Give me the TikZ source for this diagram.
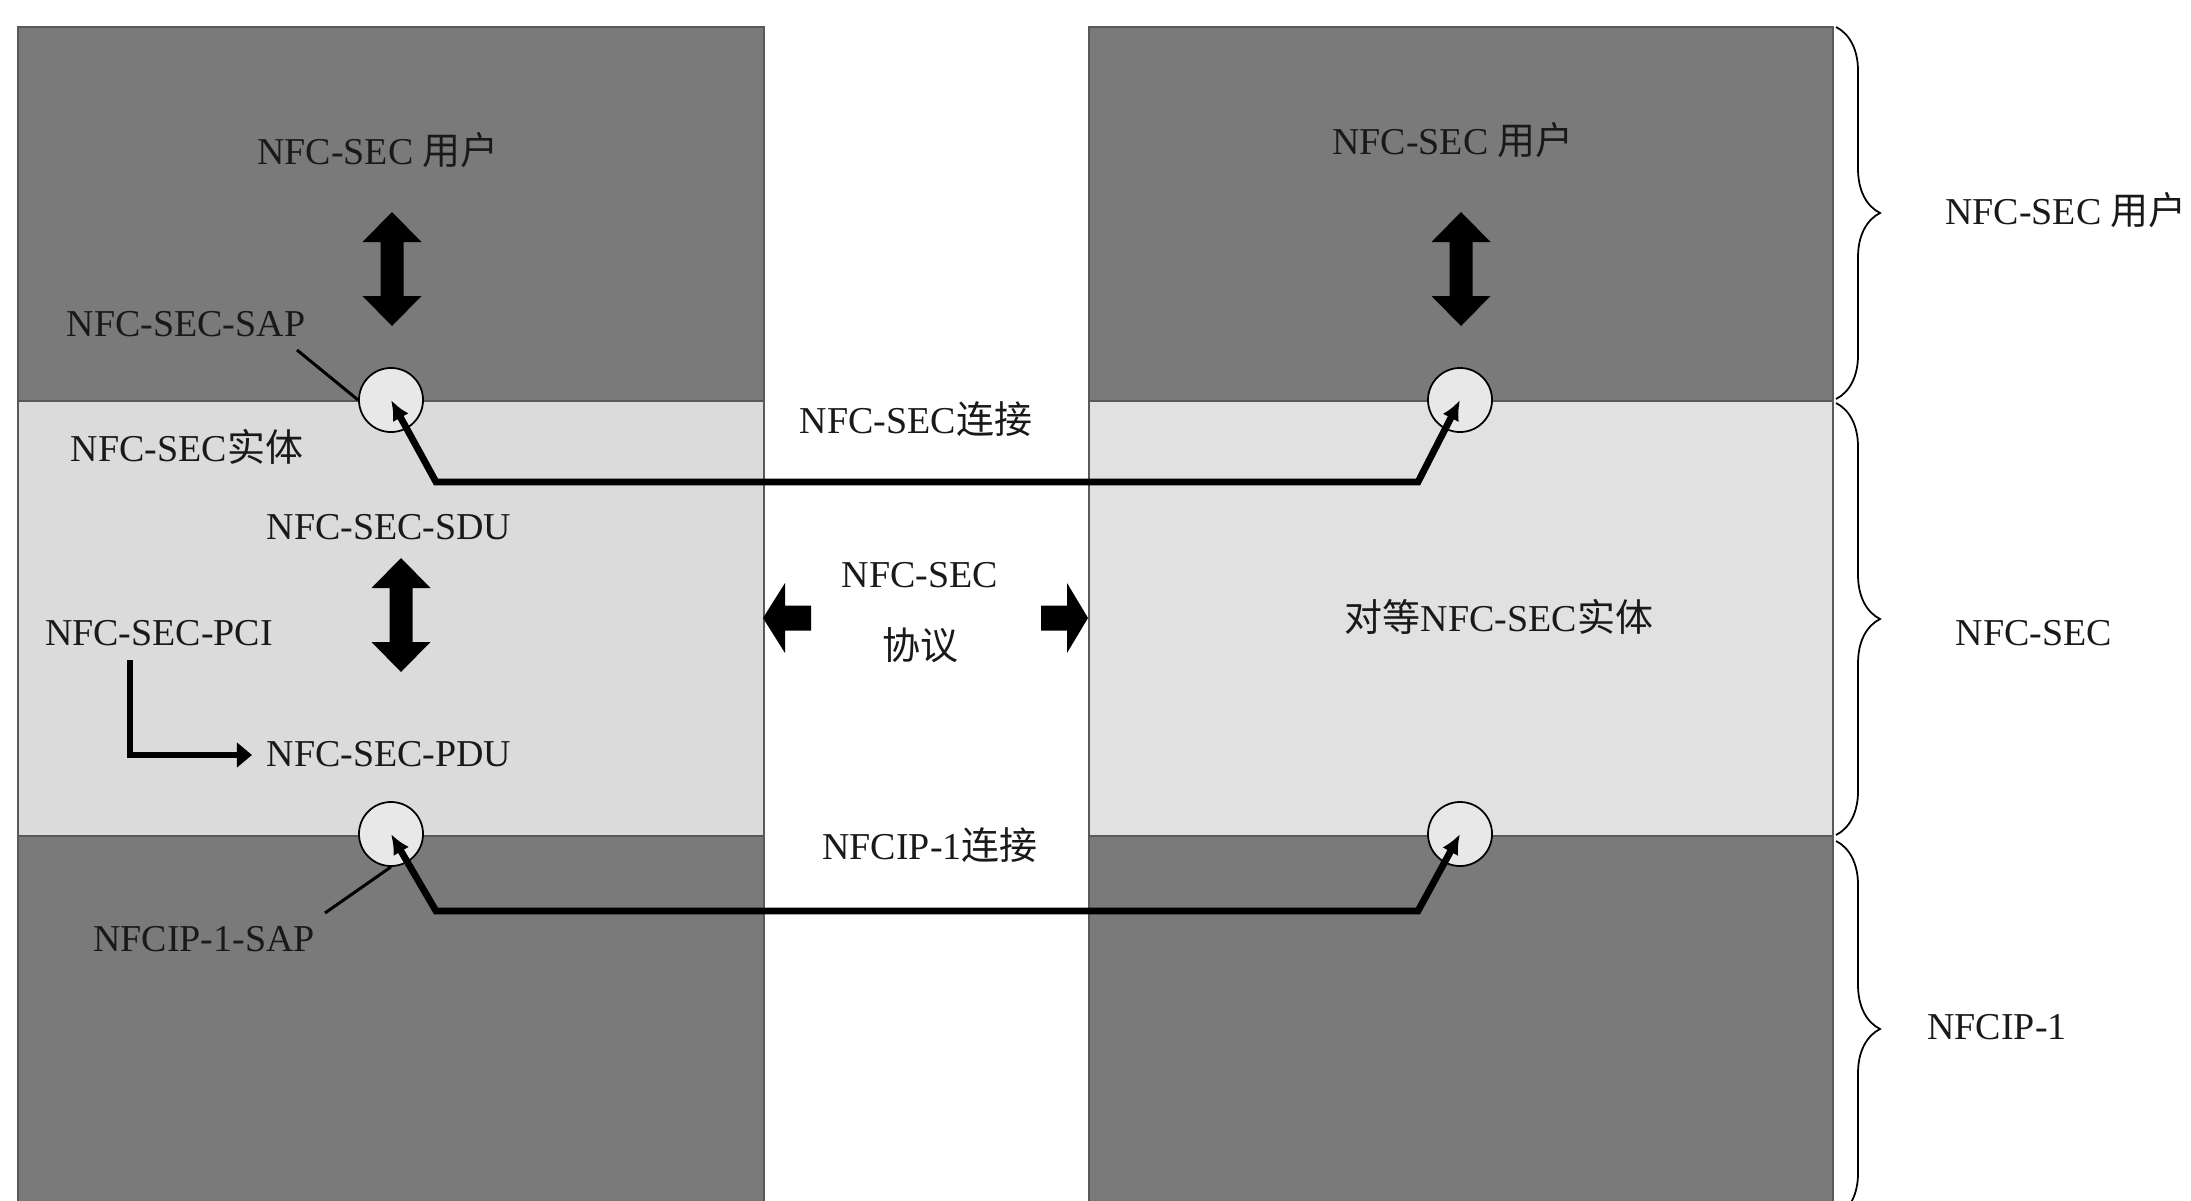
\documentclass[tikz,border=0pt]{standalone}
\usepackage{fontspec}
\setmainfont{Liberation Serif}
\newfontfamily\cjk{Noto Sans CJK SC}
\usetikzlibrary{arrows.meta,decorations.pathreplacing}
\definecolor{darkband}{HTML}{7A7A7A}
\definecolor{lightL}{HTML}{DBDBDB}
\definecolor{lightR}{HTML}{E1E1E1}
\definecolor{sapfill}{HTML}{E8E8E8}
\begin{document}
\begin{tikzpicture}[x=0.01cm,y=-0.01cm,
  lbl/.style={inner sep=0pt, text=black!90, font=\fontsize{10.8}{13}\selectfont},
  sap/.style={circle, draw=black, line width=0.5pt, fill=sapfill, minimum size=0.64cm, inner sep=0pt},
  conn/.style={line width=0.068cm, line join=miter, {Latex[length=0.2cm,width=0.18cm]}-{Latex[length=0.2cm,width=0.18cm]}},
  lconn/.style={line width=0.055cm, line join=miter, -{Triangle[length=0.15cm,width=0.24cm]}},
  tagline/.style={line width=0.03cm},
  bracest/.style={line width=0.5pt, decorate, decoration={brace, amplitude=0.44cm}},
  edgeline/.style={line width=0.6pt, black!65},
  vdbl/.pic={\fill (0,-57) -- (29.5,-27) -- (11.5,-27) -- (11.5,27) -- (29.5,27) -- (0,57) -- (-29.5,27) -- (-11.5,27) -- (-11.5,-27) -- (-29.5,-27) -- cycle;}
]
\useasboundingbox (0,0) rectangle (2191,1200);
\clip (0,0) rectangle (2191,1200);
\fill[white] (0,0) rectangle (2191,1200);

% left stack
\fill[darkband] (18,27) rectangle (764,401);
\fill[lightL] (18,401) rectangle (764,836);
\fill[darkband] (18,836) rectangle (764,1230);
\draw[edgeline] (18,1230) -- (18,27) -- (764,27) -- (764,1230);
\draw[edgeline] (18,401) -- (764,401) (18,836) -- (764,836);

% right stack
\fill[darkband] (1089,27) rectangle (1833,401);
\fill[lightR] (1089,401) rectangle (1833,836);
\fill[darkband] (1089,836) rectangle (1833,1230);
\draw[edgeline] (1089,1230) -- (1089,27) -- (1833,27) -- (1833,1230);
\draw[edgeline] (1089,401) -- (1833,401) (1089,836) -- (1833,836);

% braces
\draw[bracest] (1836,27) -- (1836,399);
\draw[bracest] (1836,403) -- (1836,835);
\draw[bracest] (1836,841) -- (1836,1217);
\node[lbl] (rUser) at (2066,210) {NFC-SEC {\cjk 用户}};
\node[lbl] (rSec) at (2034,633) {NFC-SEC};
\node[lbl] (rIp) at (1997,1027) {NFCIP-1};

% texts in the left stack
\node[lbl] (userL) at (378,150) {NFC-SEC {\cjk 用户}};
\node[lbl] (sapLbl) at (186,324) {NFC-SEC-SAP};
\node[lbl] (entL) at (187,447) {NFC-SEC{\cjk 实体}};
\node[lbl] (sdu) at (389,527) {NFC-SEC-SDU};
\node[lbl] (pci) at (159,633) {NFC-SEC-PCI};
\node[lbl] (pdu) at (389,754) {NFC-SEC-PDU};
\node[lbl] (ipSapLbl) at (204,939) {NFCIP-1-SAP};

% texts in the middle
\node[lbl] (secConn) at (916,419) {NFC-SEC{\cjk 连接}};
\node[lbl, align=center, font=\fontsize{10.8}{20.5}\selectfont] (proto) at (920,613) {NFC-SEC\\{\cjk 协议}};
\node[lbl] (ipConn) at (930,845) {NFCIP-1{\cjk 连接}};

% texts in the right stack
\node[lbl] (userR) at (1453,140) {NFC-SEC {\cjk 用户}};
\node[lbl] (entR) at (1499,617) {{\cjk 对等}NFC-SEC{\cjk 实体}};

% block arrows
\pic at (392,269) {vdbl};
\pic at (401,615) {vdbl};
\pic at (1461,269) {vdbl};
\fill (763,618) -- (785,583) -- (785,605.5) -- (811,605.5) -- (811,630.5) -- (785,630.5) -- (785,653) -- cycle;
\fill (1088,618) -- (1067,583) -- (1067,605.5) -- (1041,605.5) -- (1041,630.5) -- (1067,630.5) -- (1067,653) -- cycle;

% service access points
\node[sap] (sapA) at (391,400) {};
\node[sap] (sapB) at (1460,400) {};
\node[sap] (sapC) at (391,834) {};
\node[sap] (sapD) at (1460,834) {};

% connections
\coordinate (k1) at (436,482);
\coordinate (k2) at (1418,482);
\coordinate (k3) at (436,911);
\coordinate (k4) at (1418,911);
\draw[conn] (sapA.center) -- (k1) -- (k2) -- (sapB.center);
\draw[conn] (sapC.center) -- (k3) -- (k4) -- (sapD.center);

% tag lines
\coordinate (t1) at (297,350);
\coordinate (t2) at (325,913);
\draw[tagline] (t1) -- (sapA.west);
\draw[tagline] (t2) -- (sapC.south);

% PCI -> PDU
\coordinate (p1) at (130,660);
\coordinate (p2) at (130,755);
\coordinate (p3) at (252,755);
\draw[lconn] (p1) -- (p2) -- (p3);
\end{tikzpicture}
\end{document}
